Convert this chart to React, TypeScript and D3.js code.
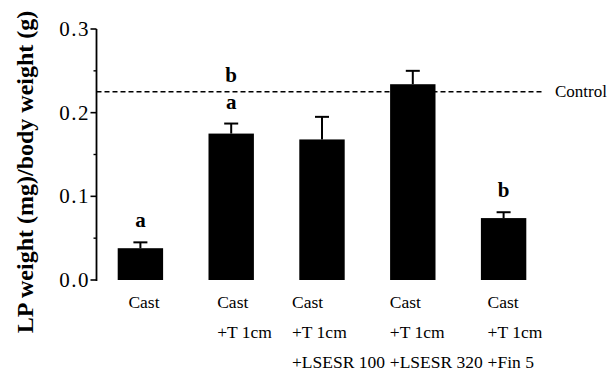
import * as d3 from "d3";
import { useEffect, useRef } from "react";

// chart data
const categories = ["c1", "c2", "c3", "c4", "c5"];
const labelLines = [
  ["Cast"],
  ["Cast", "+T 1cm"],
  ["Cast", "+T 1cm", "+LSESR 100"],
  ["Cast", "+T 1cm", "+LSESR 320"],
  ["Cast", "+T 1cm", "+Fin 5"],
];
const means = [0.038, 0.175, 0.168, 0.234, 0.074];
const errors = [0.007, 0.012, 0.027, 0.016, 0.007];
const letters = [["a"], ["a", "b"], [], [], ["b"]];
const controlValue = 0.225;
const majorTicks = [0, 0.1, 0.2, 0.3];
const minorTicks = [0.05, 0.15, 0.25];

// label left offsets relative to bar center (layout only)
const labelShift = [-12, -14, -30, -23, -16];

const W = 607;
const H = 374;
const FONT = "Liberation Serif, DejaVu Serif, Times New Roman, serif";

const App = () => {
  const svgRef = useRef(null);

  useEffect(() => {
    const svg = d3.select(svgRef.current);
    svg.selectAll("*").remove();

    const axisX = 96.5;
    const y = d3.scaleLinear().domain([0, 0.3]).range([280, 29]);
    const x = d3
      .scaleBand()
      .domain(categories)
      .range([95, 549])
      .paddingInner(0.5)
      .paddingOuter(0.25);

    // Control dashed line (behind bars)
    svg
      .append("line")
      .attr("x1", axisX)
      .attr("x2", 543)
      .attr("y1", y(controlValue))
      .attr("y2", y(controlValue))
      .attr("stroke", "#000")
      .attr("stroke-width", 1.6)
      .attr("stroke-dasharray", "5,3");

    svg
      .append("text")
      .attr("x", 555)
      .attr("y", y(controlValue) + 5.5)
      .style("font-family", FONT)
      .style("font-size", "17px")
      .text("Control");

    // bars
    svg
      .selectAll(".bar")
      .data(means)
      .enter()
      .append("rect")
      .attr("x", (d, i) => x(categories[i]))
      .attr("y", (d) => y(d))
      .attr("width", x.bandwidth())
      .attr("height", (d) => y(0) - y(d))
      .attr("fill", "#000");

    // error bars
    means.forEach((m, i) => {
      const cx = x(categories[i]) + x.bandwidth() / 2;
      const top = y(m + errors[i]);
      svg
        .append("line")
        .attr("x1", cx)
        .attr("x2", cx)
        .attr("y1", y(m))
        .attr("y2", top)
        .attr("stroke", "#000")
        .attr("stroke-width", 2);
      svg
        .append("line")
        .attr("x1", cx - 7)
        .attr("x2", cx + 7)
        .attr("y1", top)
        .attr("y2", top)
        .attr("stroke", "#000")
        .attr("stroke-width", 2);

      // significance letters
      letters[i].forEach((l, j) => {
        svg
          .append("text")
          .attr("x", cx)
          .attr("y", top - 15 - j * 27)
          .attr("text-anchor", "middle")
          .style("font-family", FONT)
          .style("font-weight", "bold")
          .style("font-size", "21px")
          .text(l);
      });

      // category labels
      labelLines[i].forEach((line, j) => {
        svg
          .append("text")
          .attr("x", cx + labelShift[i])
          .attr("y", 308 + j * 30)
          .style("font-family", FONT)
          .style("font-size", "17.5px")
          .text(line);
      });
    });

    // y axis
    svg
      .append("line")
      .attr("x1", axisX)
      .attr("x2", axisX)
      .attr("y1", y(0.3))
      .attr("y2", y(0) + 1)
      .attr("stroke", "#000")
      .attr("stroke-width", 1.8);

    svg
      .selectAll(".major")
      .data(majorTicks)
      .enter()
      .append("line")
      .attr("x1", axisX - 6)
      .attr("x2", axisX)
      .attr("y1", (d) => y(d))
      .attr("y2", (d) => y(d))
      .attr("stroke", "#000")
      .attr("stroke-width", 1.6);

    svg
      .selectAll(".minor")
      .data(minorTicks)
      .enter()
      .append("line")
      .attr("x1", axisX - 3)
      .attr("x2", axisX)
      .attr("y1", (d) => y(d))
      .attr("y2", (d) => y(d))
      .attr("stroke", "#000")
      .attr("stroke-width", 1.4);

    svg
      .selectAll(".tick-label")
      .data(majorTicks)
      .enter()
      .append("text")
      .attr("x", 90)
      .attr("y", (d) => y(d) + 7)
      .attr("text-anchor", "end")
      .style("font-family", FONT)
      .style("font-size", "21px")
      .style("letter-spacing", "1.5px")
      .text((d) => d3.format(".1f")(d));

    // y axis title
    svg
      .append("text")
      .attr("transform", "rotate(-90)")
      .attr("x", -172)
      .attr("y", 33)
      .attr("text-anchor", "middle")
      .style("font-family", FONT)
      .style("font-weight", "bold")
      .style("font-size", "24px")
      .text("LP weight (mg)/body weight (g)");
  }, []);

  return (
    <svg
      ref={svgRef}
      width={W}
      height={H}
      style={{ position: "absolute", left: 0, top: 0, background: "#fff" }}
    />
  );
};

export default App;
